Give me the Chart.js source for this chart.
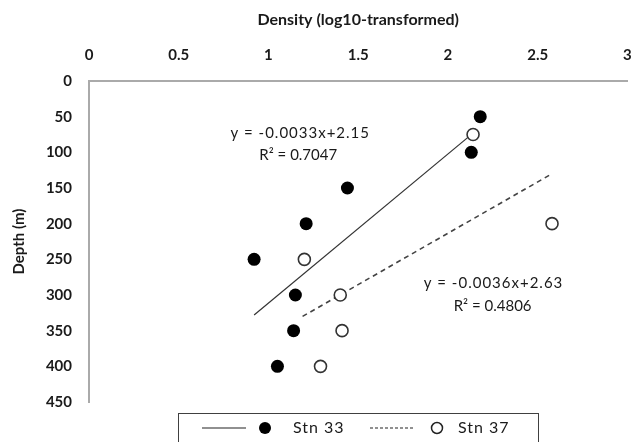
<!DOCTYPE html>
<html>
<head>
<meta charset="utf-8">
<script src="https://cdn.jsdelivr.net/npm/chart.js@4"></script>
<style>
  html, body { margin: 0; padding: 0; background: #fff; }
  #wrap { width: 635px; height: 442px; position: relative; }
</style>
</head>
<body>
<div id="wrap"><canvas id="chart"></canvas></div>
<script>
// Stn 33 (filled) and Stn 37 (open) observations
const density33 = [2.18, 2.13, 1.44, 1.21, 0.92, 1.15, 1.14, 1.05]
const depth33 = [50, 100, 150, 200, 250, 300, 350, 400]
const density37 = [2.14, 2.58, 1.20, 1.40, 1.41, 1.29]
const depth37 = [75, 200, 250, 300, 350, 400]

// trendline ends as drawn in the figure
const trend33Density = [0.92, 2.15]
const trend33Depth = [328, 71]
const trend37Density = [1.19, 2.58]
const trend37Depth = [330, 130]

const xTicks = [0, 0.5, 1, 1.5, 2, 2.5, 3]
const yTicks = [0, 50, 100, 150, 200, 250, 300, 350, 400, 450]
const seriesNames = ["Stn 33", "Stn 37"]
const equations = ["y = -0.0033x+2.15", "y = -0.0036x+2.63"]
const rSquared = ["R\u00b2 = 0.7047", "R\u00b2 = 0.4806"]

const pts = (xs, ys) => xs.map((x, i) => ({ x: x, y: ys[i] }))

Chart.defaults.font.family = "Lato"
Chart.defaults.color = "#1a1a1a"

// equation labels, placed in data space
const eqLabels = {
  id: "eqLabels",
  afterDatasetsDraw(chart) {
    const { ctx, scales: { x, y } } = chart
    const spots = [[1.177, 73, 1.166, 104], [2.254, 283, 2.249, 315]]
    ctx.save()
    ctx.font = "15px Lato"
    ctx.fillStyle = "#1a1a1a"
    ctx.textAlign = "center"
    ctx.textBaseline = "middle"
    spots.forEach((s, i) => {
      ctx.letterSpacing = "1px"
      ctx.fillText(equations[i], x.getPixelForValue(s[0]), y.getPixelForValue(s[1]))
      ctx.letterSpacing = "0px"
      ctx.fillText(rSquared[i], x.getPixelForValue(s[2]), y.getPixelForValue(s[3]))
    })
    ctx.restore()
  }
}

// legend box under the plot: line sample + marker + name
const boxLegend = {
  id: "boxLegend",
  afterDraw(chart) {
    const ctx = chart.ctx
    const cy = 428
    ctx.save()
    ctx.strokeStyle = "#404040"
    ctx.lineWidth = 1
    ctx.strokeRect(178.5, 413.5, 360, 40)

    ctx.strokeStyle = "#222"
    ctx.lineWidth = 1.2
    ctx.beginPath(); ctx.moveTo(202, cy); ctx.lineTo(246, cy); ctx.stroke()
    ctx.fillStyle = "#000"
    ctx.beginPath(); ctx.arc(265, cy, 6, 0, Math.PI * 2); ctx.fill()

    ctx.setLineDash([3, 2])
    ctx.beginPath(); ctx.moveTo(370, cy); ctx.lineTo(413, cy); ctx.stroke()
    ctx.setLineDash([])
    ctx.lineWidth = 1.5
    ctx.fillStyle = "#fff"
    ctx.beginPath(); ctx.arc(437, cy, 5.5, 0, Math.PI * 2); ctx.fill(); ctx.stroke()

    ctx.fillStyle = "#1a1a1a"
    ctx.font = "16px Lato"
    ctx.letterSpacing = "1px"
    ctx.textBaseline = "middle"
    ctx.fillText(seriesNames[0], 293, cy)
    ctx.fillText(seriesNames[1], 458, cy)
    ctx.restore()
  }
}

const config = {
  type: "scatter",
  data: {
    datasets: [
      {
        label: seriesNames[0],
        data: pts(density33, depth33),
        pointRadius: 6.5,
        pointBackgroundColor: "#000",
        pointBorderColor: "#000",
        pointBorderWidth: 0
      },
      {
        label: seriesNames[1],
        data: pts(density37, depth37),
        pointRadius: 6,
        pointBackgroundColor: "#fff",
        pointBorderColor: "#333",
        pointBorderWidth: 1.6
      },
      {
        label: "trend 33",
        type: "line",
        data: pts(trend33Density, trend33Depth),
        borderColor: "#333",
        borderWidth: 1.2,
        pointRadius: 0,
        fill: false,
        order: 5
      },
      {
        label: "trend 37",
        type: "line",
        data: pts(trend37Density, trend37Depth),
        borderColor: "#444",
        borderWidth: 1.6,
        borderDash: [5, 4],
        pointRadius: 0,
        fill: false,
        order: 5
      }
    ]
  },
  options: {
    responsive: true,
    maintainAspectRatio: false,
    animation: false,
    layout: { padding: { left: 0, right: 3, top: 0, bottom: 40 } },
    plugins: {
      legend: { display: false },
      tooltip: { enabled: false }
    },
    scales: {
      x: {
        type: "linear",
        position: "top",
        min: 0,
        max: 3,
        afterBuildTicks: (s) => { s.ticks = xTicks.map(v => ({ value: v })) },
        afterFit: (s) => { s.height = 81; s.paddingRight = 0; s.paddingLeft = 0 },
        grid: { display: false, drawTicks: false },
        border: { display: true, color: "#aaa", width: 2 },
        ticks: {
          padding: 17,
          font: { size: 15, weight: "bold" },
          color: "#1a1a1a",
          callback: (v) => String(v)
        },
        title: {
          display: true,
          text: "Density (log10-transformed)",
          font: { size: 16, weight: "bold" },
          color: "#1a1a1a",
          padding: { top: 10, bottom: 0 }
        }
      },
      y: {
        type: "linear",
        reverse: true,
        min: 0,
        max: 450,
        afterBuildTicks: (s) => { s.ticks = yTicks.map(v => ({ value: v })) },
        afterFit: (s) => { s.width = 89; s.paddingTop = 0; s.paddingBottom = 0 },
        grid: { display: false, drawTicks: false },
        border: { display: true, color: "#aaa", width: 2 },
        ticks: {
          padding: 17,
          font: { size: 15, weight: "bold" },
          color: "#1a1a1a",
          callback: (v) => String(v)
        },
        title: {
          display: true,
          text: "Depth (m)",
          font: { size: 15, weight: "bold" },
          color: "#1a1a1a",
          padding: { top: 10, bottom: 0 }
        }
      }
    }
  },
  plugins: [eqLabels, boxLegend]
}

const myChart = new Chart(document.getElementById("chart"), config)
</script>
</body>
</html>
